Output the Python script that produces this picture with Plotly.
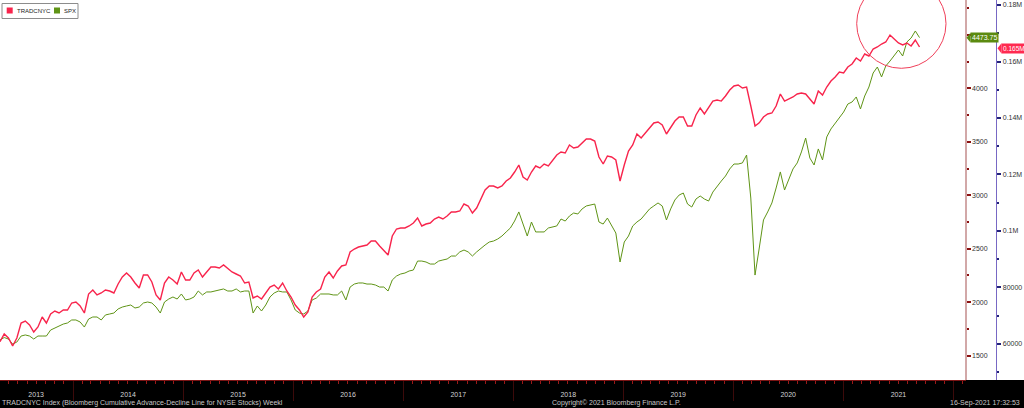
import pandas as pd
import plotly.graph_objects as go

# ---------------- data ----------------
series_start = "2013-05-03"          # first observation shown (sampled every 2 weeks)
sample_freq = "14D"

# TRADCNYC Index - Bloomberg Cumulative Advance-Decline Line for NYSE Stocks
adline = [
    60808, 63534, 62118, 59286, 62118, 67428, 68136, 66720, 64242, 66012,
    69552, 67428, 70614, 71676, 70968, 72030, 72030, 74508, 74862, 73446,
    70968, 77694, 79110, 77340, 78048, 79110, 78756, 78048, 81234, 83712,
    85128, 83712, 81588, 79818, 84420, 84420, 81942, 77340, 75570, 81588,
    83712, 82650, 81234, 85482, 82650, 82650, 85128, 86190, 83712, 85482,
    87252, 87252, 86898, 87960, 86544, 85482, 84774, 84066, 81588, 81942,
    76278, 76986, 75924, 78048, 80172, 80880, 79464, 81588, 78756, 76632,
    73800, 72030, 69552, 71322, 76632, 78402, 79464, 83712, 85482, 83358,
    85836, 87606, 87960, 92562, 93624, 94332, 94686, 95040, 96456, 96456,
    94686, 93270, 91500, 98226, 100704, 101058, 101058, 101766, 102828, 104598,
    101766, 102474, 102828, 104244, 104952, 104244, 105306, 106722, 106722, 107076,
    109554, 108846, 106368, 108138, 111324, 114510, 115926, 115926, 115218, 115926,
    117696, 118758, 120882, 123360, 119112, 118050, 120882, 123006, 122298, 123714,
    123006, 125130, 126900, 127962, 127608, 130440, 129378, 129732, 131148, 132564,
    132564, 131856, 126192, 123714, 126546, 126192, 125130, 117696, 123360, 128316,
    130440, 134334, 132918, 134688, 136812, 138228, 138582, 137520, 134334, 136812,
    138936, 140352, 140352, 137166, 137166, 141060, 143538, 141414, 143538, 145992,
    146370, 145992, 147786, 149910, 151326, 151680, 150618, 150972, 144246, 137166,
    138300, 140352, 141414, 141768, 144246, 148494, 145992, 146724, 147432, 148494,
    148848, 148494, 146724, 144954, 149556, 148140, 150972, 153096, 154512, 156282,
    155928, 158052, 159114, 161238, 160176, 162654, 161946, 164424, 165132, 166194,
    166902, 169380, 167964, 166548, 165840, 166548, 165486, 167610, 165132,
]

# SPX Index
spx = [
    1647, 1670, 1656, 1609, 1628, 1684, 1694, 1684, 1656, 1684,
    1684, 1684, 1740, 1759, 1778, 1796, 1806, 1834, 1834, 1815,
    1768, 1843, 1862, 1862, 1834, 1881, 1890, 1899, 1937, 1955,
    1965, 1974, 1946, 1955, 1993, 2002, 1993, 1955, 1899, 2002,
    2030, 2049, 2030, 2077, 2021, 2030, 2049, 2105, 2068, 2096,
    2096, 2105, 2114, 2124, 2105, 2105, 2124, 2096, 2105, 2105,
    1899, 1965, 1918, 1974, 2049, 2086, 2105, 2096, 2096, 2021,
    1927, 1899, 1890, 1918, 2021, 2039, 2077, 2077, 2077, 2068,
    2068, 2105, 2021, 2142, 2170, 2180, 2180, 2170, 2170, 2161,
    2142, 2142, 2105, 2208, 2245, 2264, 2273, 2292, 2301, 2385,
    2385, 2376, 2357, 2357, 2385, 2395, 2404, 2432, 2432, 2470,
    2488, 2470, 2432, 2470, 2507, 2535, 2563, 2572, 2591, 2619,
    2657, 2694, 2759, 2844, 2731, 2619, 2750, 2657, 2657, 2657,
    2694, 2703, 2713, 2778, 2759, 2806, 2834, 2825, 2872, 2900,
    2909, 2918, 2750, 2731, 2787, 2713, 2647, 2376, 2563, 2619,
    2713, 2750, 2778, 2825, 2872, 2900, 2928, 2900, 2769, 2872,
    2956, 3002, 3021, 2918, 2890, 2965, 2993, 2965, 2946, 3030,
    3087, 3133, 3180, 3246, 3292, 3292, 3302, 3376, 2974, 2254,
    2507, 2769, 2844, 2928, 3068, 3218, 3049, 3143, 3246, 3302,
    3405, 3535, 3348, 3283, 3433, 3330, 3545, 3620, 3676, 3732,
    3778, 3853, 3872, 3919, 3807, 3928, 4012, 4143, 4199, 4106,
    4209, 4255, 4302, 4358, 4302, 4433, 4470, 4536, 4473.75,
]

ad_dates = pd.date_range(series_start, periods=len(adline), freq=sample_freq)
spx_dates = pd.date_range(series_start, periods=len(spx), freq=sample_freq)

# axis ticks / labels
year_label_dates = ["2013-08-31", "2014-07-02", "2015-07-02", "2016-07-01", "2017-07-02",
                    "2018-07-02", "2019-07-02", "2020-07-01", "2021-07-02"]
year_labels = ["2013", "2014", "2015", "2016", "2017", "2018", "2019", "2020", "2021"]
spx_ticks = [1500, 2000, 2500, 3000, 3500, 4000, 4500]
spx_tick_labels = ["1500", "2000", "2500", "3000", "3500", "4000", ""]   # 4500 hidden under the last-value tag
ad_ticks = [60000, 80000, 100000, 120000, 140000, 160000, 180000]
ad_tick_labels = ["60000", "80000", "0.1M", "0.12M", "0.14M", "0.16M", "0.18M"]

series_names = ["TRADCNYC", "SPX"]
last_labels = ["0.165M", "4473.75"]
footer_left = "TRADCNYC Index (Bloomberg Cumulative Advance-Decline Line for NYSE Stocks) Weekl"
footer_mid = "Copyright\u00a9 2021 Bloomberg Finance L.P."
footer_right = "16-Sep-2021 17:32:53"

# ---------------- styling ----------------
RED = "#f8244c"
GREEN = "#5f9416"
FONT = "Liberation Sans, Arial, sans-serif"
W, H, B = 1024, 408, 28
PH = H - B
X_RANGE = ["2013-05-03", "2022-02-10"]
SPX_RANGE = [1272.9, 4825.5]
AD_RANGE = [47250, 181770]
XDOM = 0.943


def px(x):
    return x / W


def py(y):
    return 1 - y / PH


fig = go.Figure()
fig.add_trace(go.Scatter(x=spx_dates, y=spx, xaxis="x", yaxis="y", mode="lines",
                         line=dict(color=GREEN, width=1), name=series_names[1],
                         showlegend=False, hoverinfo="skip"))
fig.add_trace(go.Scatter(x=ad_dates, y=adline, xaxis="x2", yaxis="y2", mode="lines",
                         line=dict(color=RED, width=1.4), name=series_names[0],
                         showlegend=False, hoverinfo="skip"))

shapes = [
    # black footer band
    dict(type="rect", xref="paper", yref="paper", x0=0, x1=1, y0=py(H), y1=py(PH),
         fillcolor="black", line=dict(width=0), layer="below"),
    # legend box
    dict(type="rect", xref="paper", yref="paper", x0=px(2), x1=px(78), y0=py(18.5), y1=py(3.5),
         fillcolor="white", line=dict(color="#8c8c8c", width=1)),
    dict(type="rect", xref="paper", yref="paper", x0=px(6.7), x1=px(12.7), y0=py(13.5), y1=py(7.5),
         fillcolor=RED, line=dict(width=0)),
    dict(type="rect", xref="paper", yref="paper", x0=px(54), x1=px(60), y0=py(13.5), y1=py(7.5),
         fillcolor=GREEN, line=dict(width=0)),
    # highlight circle
    dict(type="circle", xref="paper", yref="paper", x0=px(856.7), x1=px(946), y0=py(68.3), y1=py(-21),
         line=dict(color="#f0405a", width=1)),
    # last-value tag arrows
    dict(type="path", xref="paper", yref="paper",
         path=f"M {px(966.5)},{py(37.7)} L {px(970.5)},{py(32.8)} L {px(970.5)},{py(42.6)} Z",
         fillcolor="#5b8a10", line=dict(width=0)),
    dict(type="path", xref="paper", yref="paper",
         path=f"M {px(997.5)},{py(48.3)} L {px(1001.5)},{py(43.2)} L {px(1001.5)},{py(53.4)} Z",
         fillcolor="#ff2a50", line=dict(width=0)),
]

annotations = [
    dict(text=series_names[0], xref="paper", yref="paper", x=px(14.5), y=py(10.8),
         xanchor="left", yanchor="middle", showarrow=False, font=dict(size=6, color="#222", family=FONT)),
    dict(text=series_names[1], xref="paper", yref="paper", x=px(61.5), y=py(10.8),
         xanchor="left", yanchor="middle", showarrow=False, font=dict(size=6, color="#222", family=FONT)),
    dict(text=last_labels[1], xref="paper", yref="paper", x=px(970), y=py(37.7),
         xanchor="left", yanchor="middle", showarrow=False, bgcolor="#5b8a10", borderpad=1,
         font=dict(size=7, color="white", family=FONT)),
    dict(text=last_labels[0], xref="paper", yref="paper", x=px(1001), y=py(48.3),
         xanchor="left", yanchor="middle", showarrow=False, bgcolor="#ff2a50", borderpad=1,
         font=dict(size=6.5, color="white", family=FONT)),
    dict(text=footer_left, xref="paper", yref="paper", x=0, y=py(403),
         xanchor="left", yanchor="middle", showarrow=False, font=dict(size=7, color="#c8c8c8", family=FONT)),
    dict(text=footer_mid, xref="paper", yref="paper", x=px(550), y=py(403),
         xanchor="left", yanchor="middle", showarrow=False, font=dict(size=7, color="#c8c8c8", family=FONT)),
    dict(text=footer_right, xref="paper", yref="paper", x=px(1022), y=py(403),
         xanchor="right", yanchor="middle", showarrow=False, font=dict(size=7, color="#c8c8c8", family=FONT)),
]

fig.update_layout(
    width=W, height=H, autosize=False,
    margin=dict(l=0, r=0, t=0, b=B, pad=0),
    paper_bgcolor="white", plot_bgcolor="white",
    font=dict(family=FONT, size=7, color="#333"),
    showlegend=False,
    shapes=shapes, annotations=annotations,
    xaxis=dict(domain=[0, XDOM], range=X_RANGE, type="date", anchor="y",
               showgrid=False, zeroline=False, showline=True, linecolor="#7a1414", linewidth=1,
               tickmode="linear", tick0="2013-01-01", dtick="M12", ticks="outside", ticklen=20,
               tickcolor="#3c0a0a", tickwidth=1, showticklabels=False,
               minor=dict(ticks="outside", ticklen=3, dtick="M1", tick0="2013-01-01",
                          tickcolor="#9a1a1a", showgrid=False)),
    xaxis2=dict(overlaying="x", range=X_RANGE, type="date", anchor="y2", side="bottom",
                showgrid=False, zeroline=False, showline=False,
                tickmode="array", tickvals=year_label_dates, ticktext=year_labels,
                ticks="outside", ticklen=8, tickcolor="rgba(0,0,0,0)",
                tickfont=dict(size=7, color="#d4d4d4", family=FONT)),
    yaxis=dict(range=SPX_RANGE, anchor="free", position=XDOM, side="right",
               showgrid=False, zeroline=False, showline=True, linecolor="#d2a8a8", linewidth=2,
               tickmode="array", tickvals=spx_ticks, ticktext=spx_tick_labels, ticks="outside", ticklen=4,
               tickcolor="#8b1010", tickwidth=2,
               tickfont=dict(size=7, color="#333", family=FONT),
               minor=dict(ticks="outside", ticklen=2, tickmode="linear", tick0=0, dtick=250,
                          tickcolor="#8b1010", showgrid=False)),
    yaxis2=dict(range=AD_RANGE, overlaying="y", anchor="free", position=0.973, side="right",
                showgrid=False, zeroline=False, showline=True, linecolor="#7868c4", linewidth=1,
                tickmode="array", tickvals=ad_ticks, ticktext=ad_tick_labels, ticks="outside",
                ticklen=4, tickcolor="#23237a", tickwidth=2,
                tickfont=dict(size=7, color="#333", family=FONT),
                minor=dict(ticks="outside", ticklen=2, tickmode="linear", tick0=0, dtick=10000,
                           tickcolor="#23237a", showgrid=False)),
)

fig.write_html(
    "out.html",
    config={"displayModeBar": False, "staticPlot": True},
    post_script="document.body.style.margin='0';document.body.style.overflow='hidden';",
)
